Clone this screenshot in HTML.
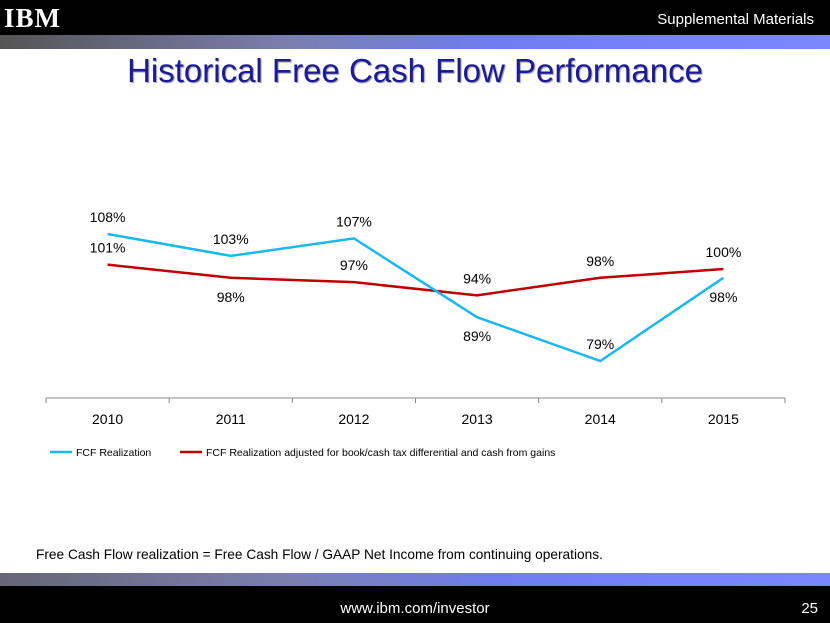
<!DOCTYPE html>
<html><head><meta charset="utf-8"><style>
body{margin:0;width:830px;height:623px;overflow:hidden;background:#fff;font-family:"Liberation Sans",sans-serif;position:relative}
.abs{position:absolute}
</style></head><body>
<div class="abs" style="left:0;top:0;width:830px;height:35px;background:#000"></div>
<div class="abs" style="left:0;top:35px;width:830px;height:14px;background:linear-gradient(90deg,#555 0%,#7a7fb0 35%,#6e7ef0 60%,#7a88ff 100%)"></div>
<div class="abs" style="left:4px;top:3px;font:bold 27px 'Liberation Serif',serif;color:#fff;letter-spacing:1px">IBM</div>
<div class="abs" style="right:16px;top:11px;color:#fff;font-size:15px">Supplemental Materials</div>
<div class="abs" style="left:0;width:830px;top:52px;text-align:center;color:#1a1a9a;font-size:33px;text-shadow:1px 1px 1px #999">Historical Free Cash Flow Performance</div>
<svg class="abs" style="left:0;top:0" width="830" height="623">
<g id="g"></g></svg>
<div class="abs" style="left:36px;top:547px;font-size:13.7px;color:#000">Free Cash Flow realization = Free Cash Flow / GAAP Net Income from continuing operations.</div>
<div class="abs" style="left:0;top:573px;width:830px;height:13px;background:linear-gradient(90deg,#667 0%,#7a7fb0 35%,#6e7ef0 60%,#7a88ff 100%)"></div>
<div class="abs" style="left:0;top:586px;width:830px;height:37px;background:#000"></div>
<div class="abs" style="left:0;width:830px;top:600px;text-align:center;color:#fff;font-size:15px">www.ibm.com/investor</div>
<div class="abs" style="right:12px;top:600px;color:#fff;font-size:15px">25</div>
<script>
const categories=["2010","2011","2012","2013","2014","2015"];
const fcf=[108,103,107,89,79,98];
const fcfAdj=[101,98,97,94,98,100];
const fcfLabelPos=["above","above","above","below","above","below"];
const adjLabelPos=["above","below","above","above","above","above"];
const NS="http://www.w3.org/2000/svg";
const g=document.getElementById('g');
const x0=46,x1=785,axisY=398,step=(x1-x0)/categories.length;
const xs=i=>x0+step*(i+0.5);
const ys=v=>234+(108-v)*4.38;
function el(t,a){const e=document.createElementNS(NS,t);for(const k in a)e.setAttribute(k,a[k]);g.appendChild(e);return e;}
const ax=el('line',{x1:x0,x2:x1,y1:axisY,y2:axisY,stroke:'#888'});


for(let i=0;i<=categories.length;i++){const t=el('line',{x1:x0+step*i,x2:x0+step*i,y1:axisY,y2:axisY+5,stroke:'#888'});

}
categories.forEach((c,i)=>{const t=el('text',{x:xs(i),y:axisY+26,'text-anchor':'middle','font-size':14,'font-family':'Liberation Sans, sans-serif'});t.textContent=c;

});
function series(vals,color,pos,name){
const p=el('polyline',{points:vals.map((v,i)=>xs(i)+','+ys(v)).join(' '),fill:'none',stroke:color,'stroke-width':2.5});


vals.forEach((v,i)=>{const t=el('text',{x:xs(i),y:pos[i]=='above'?ys(v)-12:ys(v)+24,'text-anchor':'middle','font-size':14,'font-family':'Liberation Sans, sans-serif'});t.textContent=v+'%';

});}
series(fcfAdj,'#c00000',adjLabelPos,'fcf-adjusted');
series(fcf,'#1ab8f0',fcfLabelPos,'fcf-realization');
function leg(x,color,txt,name){const l=el('line',{x1:x,x2:x+22,y1:452,y2:452,stroke:color,'stroke-width':2.5});


const t=el('text',{x:x+26,y:456,'font-size':10.5,'font-family':'Liberation Sans, sans-serif'});t.textContent=txt;

}
leg(50,'#1ab8f0','FCF Realization','fcf-realization');
leg(180,'#c00000','FCF Realization adjusted for book/cash tax differential and cash from gains','fcf-adjusted');
</script>
</body></html>
